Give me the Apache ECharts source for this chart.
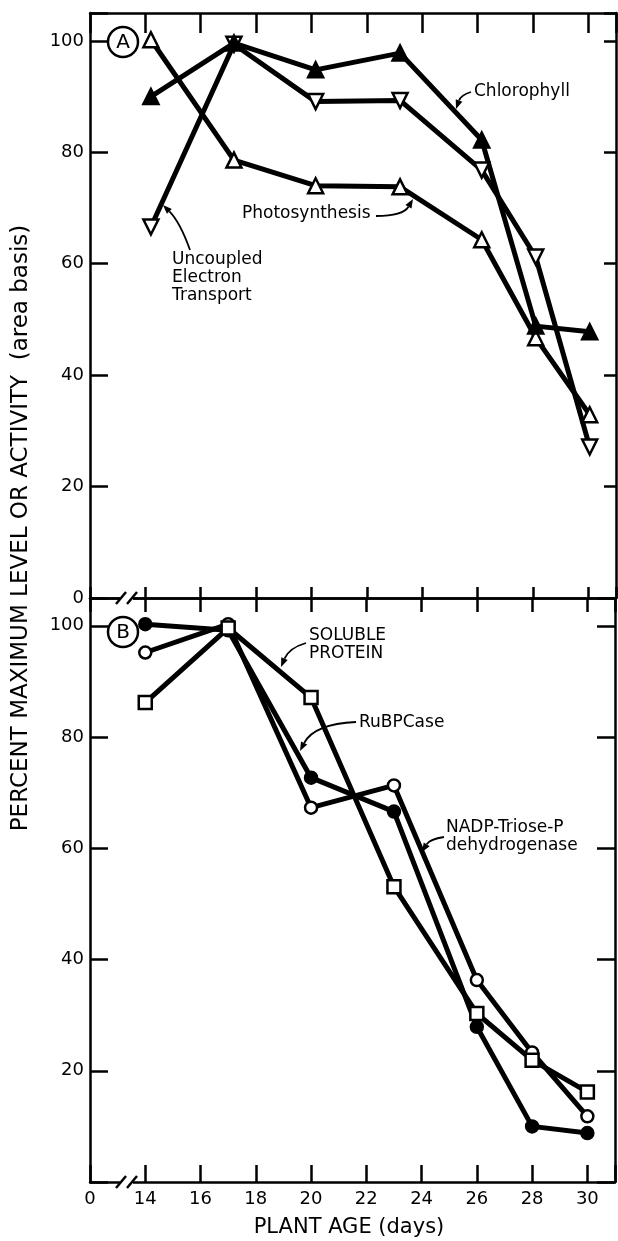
<!DOCTYPE html>
<html>
<head>
<meta charset="utf-8">
<script src="https://cdn.jsdelivr.net/npm/echarts@6/dist/echarts.min.js"></script>
<style>
  html, body { margin: 0; padding: 0; background: #fff; }
  #main { width: 618px; height: 1241px; }
</style>
</head>
<body>
<div id="main"></div>
<script>
// panel A: plant age (days) vs. percent of maximum (area basis)
var daysA = [14.2, 17.2, 20.15, 23.2, 26.15, 28.1, 30.05];
var chlorophyll = [90, 99.6, 94.8, 97.8, 82.2, 48.8, 47.8];
var uncoupled = [66.6, 99.4, 89.1, 89.3, 76.8, 61.2, 27.1];
var photosynthesis = [100.2, 78.6, 74.0, 73.8, 64.3, 46.7, 32.9];

// panel B
var daysB = [14, 17, 20, 23, 26, 28, 30];
var rubpcase = [100.3, 99.2, 72.7, 66.6, 27.9, 10.0, 8.8];
var nadpTrioseP = [95.2, 100.3, 67.3, 71.3, 36.3, 23.3, 11.8];
var solubleProtein = [86.2, 99.6, 87.1, 53.1, 30.3, 21.9, 16.2];

var xTicks = [14, 16, 18, 20, 22, 24, 26, 28, 30];
var yTicks = [0, 20, 40, 60, 80, 100];

var FONT = 'DejaVu Sans';

function pairs(xs, ys) {
    return xs.map(function (x, i) { return [x, ys[i]]; });
}

var chart = echarts.init(document.getElementById('main'));

var lineBase = { width: 2.5, color: '#000' };

function xAxis(grid, pos, tickLen, showLabel) {
    return {
        type: 'value', gridIndex: grid, position: pos, min: 12, max: 31, interval: 2,
        axisLine: { show: true, onZero: false, lineStyle: lineBase },
        axisTick: { show: true, inside: true, length: tickLen, lineStyle: lineBase },
        splitLine: { show: false },
        axisLabel: {
            show: showLabel, margin: 8, color: '#000', fontFamily: FONT, fontSize: 18,
            formatter: function (v) {
                if (v === 12) return '0';
                return xTicks.indexOf(v) >= 0 ? String(v) : '';
            }
        }
    };
}

function yAxis(grid, pos, tickLen, showZero) {
    return {
        type: 'value', gridIndex: grid, position: pos, min: 0, max: 105, interval: 20,
        axisLine: { show: true, lineStyle: lineBase },
        axisTick: { show: true, inside: true, length: tickLen, lineStyle: lineBase },
        splitLine: { show: false },
        axisLabel: {
            show: pos === 'left', margin: 6, color: '#000', fontFamily: FONT, fontSize: 18,
            formatter: function (v) {
                if (v === 0 && !showZero) return '';
                return yTicks.indexOf(v) >= 0 ? String(v) : '';
            }
        }
    };
}

function series(name, xi, yi, data, symbol, filled, size, rotate) {
    return {
        name: name, type: 'line', xAxisIndex: xi, yAxisIndex: yi, data: data,
        symbol: symbol, symbolSize: size, symbolRotate: rotate || 0, showAllSymbol: true,
        lineStyle: { color: '#000', width: 5 },
        itemStyle: { color: filled ? '#000' : '#fff', borderColor: '#000', borderWidth: 2.5 },
        emphasis: { disabled: true }
    };
}

function arrow(x1, y1, cx, cy, x2, y2) {
    var ang = Math.atan2(y2 - cy, x2 - cx);
    var L = 9, W = 3.5;
    var bx = x2 - L * Math.cos(ang), by = y2 - L * Math.sin(ang);
    var px = -Math.sin(ang) * W, py = Math.cos(ang) * W;
    return [
        { type: 'bezierCurve', z: 50, shape: { x1: x1, y1: y1, cpx1: cx, cpy1: cy, x2: bx, y2: by },
          style: { stroke: '#000', lineWidth: 1.8, fill: null } },
        { type: 'polygon', z: 50, shape: { points: [[x2, y2], [bx + px, by + py], [bx - px, by - py]] },
          style: { fill: '#000' } }
    ];
}

function label(x, y, text) {
    return { type: 'text', x: x, y: y, z: 50,
             style: { text: text, font: '17px ' + FONT, fill: '#000', align: 'left', verticalAlign: 'middle', lineHeight: 18 } };
}

function circled(x, y, letter) {
    return [
        { type: 'circle', z: 50, shape: { cx: x, cy: y, r: 15 }, style: { fill: '#fff', stroke: '#000', lineWidth: 2.5 } },
        { type: 'text', x: x, y: y + 1, z: 51,
          style: { text: letter, font: '20px ' + FONT, fill: '#000', align: 'center', verticalAlign: 'middle' } }
    ];
}

function axisBreak(y) {
    return [
        { type: 'rect', z: 60, shape: { x: 121, y: y - 3, width: 12, height: 6 }, style: { fill: '#fff' } },
        { type: 'line', z: 61, shape: { x1: 116, y1: y + 6, x2: 126, y2: y - 6 }, style: { stroke: '#000', lineWidth: 2.5 } },
        { type: 'line', z: 61, shape: { x1: 127, y1: y + 6, x2: 137, y2: y - 6 }, style: { stroke: '#000', lineWidth: 2.5 } }
    ];
}

var graphics = [].concat(
    circled(123, 42, 'A'),
    circled(123, 632, 'B'),
    axisBreak(598),
    axisBreak(1182),
    [label(474, 92, 'Chlorophyll')],
    arrow(471, 92, 461, 95, 456, 109),
    [label(242, 214, 'Photosynthesis')],
    arrow(376, 216, 403, 216, 413, 199),
    [label(172, 278, 'Uncoupled\nElectron\nTransport')],
    arrow(190, 250, 180, 222, 163, 205),
    [label(309, 645, 'SOLUBLE\nPROTEIN')],
    arrow(306, 643, 289, 648, 281, 667),
    [label(359, 723, 'RuBPCase')],
    arrow(356, 722, 314, 724, 300, 751),
    [label(446, 837, 'NADP-Triose-P\ndehydrogenase')],
    arrow(444, 837, 430, 839, 422, 852),
    [{
        type: 'text', x: 21, y: 528, rotation: Math.PI / 2, z: 50,
        style: { text: 'PERCENT MAXIMUM LEVEL OR ACTIVITY  (area basis)', font: '23px ' + FONT,
                 fill: '#000', align: 'center', verticalAlign: 'middle' }
    }, {
        type: 'text', x: 349, y: 1228, z: 50,
        style: { text: 'PLANT AGE (days)', font: '21px ' + FONT, fill: '#000', align: 'center', verticalAlign: 'middle' }
    }]
);

chart.setOption({
    animation: false,
    backgroundColor: '#fff',
    grid: [
        { left: 90, right: 2, top: 13, height: 585, containLabel: false },
        { left: 90, right: 2, top: 598, height: 584, containLabel: false }
    ],
    xAxis: [
        xAxis(0, 'bottom', 11, false),
        xAxis(0, 'top', 20, false),
        xAxis(1, 'top', 14, false),
        xAxis(1, 'bottom', 17, true)
    ],
    yAxis: [
        yAxis(0, 'left', 18, true),
        yAxis(0, 'right', 12, true),
        yAxis(1, 'left', 18, false),
        yAxis(1, 'right', 18, false)
    ],
    series: [
        series('Uncoupled Electron Transport', 0, 0, pairs(daysA, uncoupled), 'triangle', false, 15, 180),
        series('Photosynthesis', 0, 0, pairs(daysA, photosynthesis), 'triangle', false, 15),
        series('Chlorophyll', 0, 0, pairs(daysA, chlorophyll), 'triangle', true, 15),
        series('RuBPCase', 3, 2, pairs(daysB, rubpcase), 'circle', true, 12),
        series('NADP-Triose-P dehydrogenase', 3, 2, pairs(daysB, nadpTrioseP), 'circle', false, 12),
        series('Soluble Protein', 3, 2, pairs(daysB, solubleProtein), 'rect', false, 13)
    ],
    graphic: graphics
});
</script>
</body>
</html>
